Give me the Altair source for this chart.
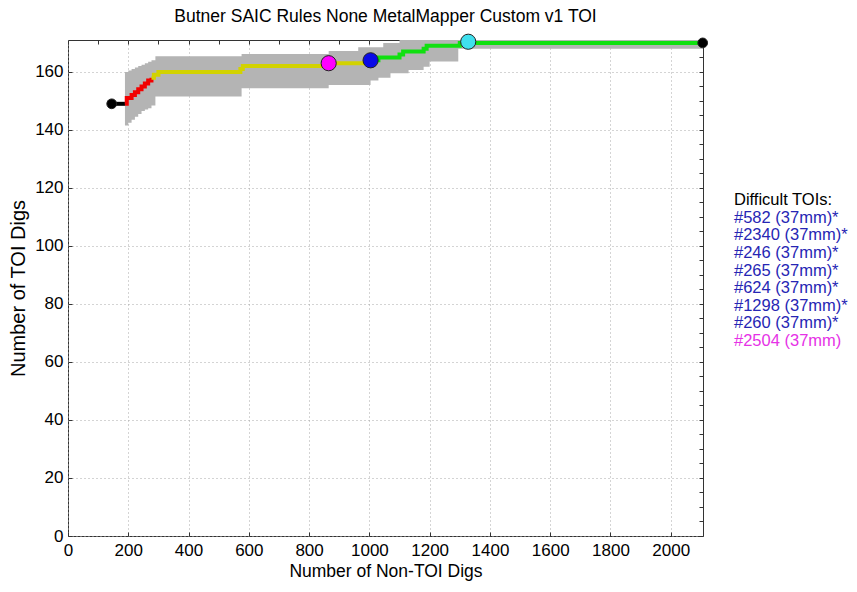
import altair as alt
import pandas as pd

# ---------------- data ----------------
start_x = [145, 189]
start_y = [149, 149]

red_x = [189, 195, 211, 222, 233, 244, 255, 266, 277]
red_y = [149, 151, 152, 153, 154, 155, 156, 157, 158]

yellow_x = [277, 285, 300, 565, 572, 580, 865, 1004]
yellow_y = [158, 159, 160, 160, 161, 162, 163, 163]

green_x = [1004, 1030, 1100, 1112, 1180, 1190, 1300, 1328, 2106]
green_y = [164, 165, 166, 167, 168, 169, 170, 170, 170]

band_x = [189, 200, 211, 222, 233, 244, 255, 266, 277, 290, 576, 865, 963, 1004,
          1030, 1046, 1070, 1100, 1130, 1180, 1200, 1295, 2106]
band_lo = [141.5, 142.5, 143.5, 144.5, 145.5, 146.5, 147, 147.5, 148.4, 151.5, 154.4,
           155.5, 155.5, 157, 158, 158, 159.5, 159.5, 160.7, 161.8, 163.6, 168, 168]
band_hi = [160, 160.5, 161, 161.5, 162, 162.5, 163, 163.5, 164, 165.4, 166.2, 167.2,
           168.5, 168.5, 168.5, 170, 170, 171, 171, 171, 171, 171, 171]

marker_names = ["start", "magenta", "blue", "cyan", "end"]
marker_x = [145, 865, 1004, 1328, 2106]
marker_y = [149, 163, 164, 170.4, 170]

legend_lines = ["Difficult TOIs:", "#582 (37mm)*", "#2340 (37mm)*", "#246 (37mm)*",
                "#265 (37mm)*", "#624 (37mm)*", "#1298 (37mm)*", "#260 (37mm)*",
                "#2504 (37mm)"]
legend_kind = ["head"] + ["found"] * 7 + ["missed"]

title = "Butner SAIC Rules None MetalMapper Custom v1 TOI"
x_ticks = list(range(0, 2101, 100))
y_ticks = list(range(0, 171, 5))

# ---------------- styles ----------------
FONT = "Liberation Sans, Arial, sans-serif"
X_DOMAIN = [0, 2107]
Y_DOMAIN = [0, 171]
seg_colors = {"start": "#000000", "red": "#f20000", "yellow": "#d2d200", "green": "#10e010"}
mk_colors = {"start": "#000000", "magenta": "#ff00ff", "blue": "#0a0ae6",
             "cyan": "#40e0ee", "end": "#000000"}
mk_sizes = {"start": 95, "magenta": 230, "blue": 230, "cyan": 230, "end": 95}
txt_colors = {"head": "#000000", "found": "#2626b4", "missed": "#e632e6"}

band_df = pd.DataFrame({"x": band_x, "lo": band_lo, "hi": band_hi})

rows = []
for name, xs, ys in [("start", start_x, start_y), ("red", red_x, red_y),
                     ("yellow", yellow_x, yellow_y), ("green", green_x, green_y)]:
    for i, (a, b) in enumerate(zip(xs, ys)):
        rows.append({"seg": name, "x": a, "y": b, "o": i, "col": seg_colors[name]})
line_df = pd.DataFrame(rows)

mk_df = pd.DataFrame({"name": marker_names, "x": marker_x, "y": marker_y})
mk_df["col"] = mk_df["name"].map(mk_colors)
mk_df["size"] = mk_df["name"].map(mk_sizes)

txt_df = pd.DataFrame({"t": legend_lines, "row": list(range(len(legend_lines))),
                       "kind": legend_kind})
txt_df["col"] = txt_df["kind"].map(txt_colors)

title_df = pd.DataFrame({"t": [title]})

xscale = alt.Scale(domain=X_DOMAIN, nice=False, zero=False)
yscale = alt.Scale(domain=Y_DOMAIN, nice=False, zero=False)

major_x = "datum.value % 200 == 0"
major_y = "datum.value % 20 == 0"

x_axis = alt.Axis(values=x_ticks, format="d",
                  labelExpr=f"{major_x} ? datum.label : ''",
                  title="Number of Non-TOI Digs", grid=True, gridDash=[1, 3],
                  gridColor="#a8a8a8",
                  gridOpacity={"condition": {"test": major_x, "value": 1}, "value": 0},
                  domain=False, offset=-4, tickSize=4, tickColor="#333333",
                  labelPadding=6, labelFontSize=17, labelFont=FONT, labelColor="black",
                  titleFont=FONT, titleFontSize=17.5, titleFontWeight="normal",
                  titleColor="black", titlePadding=4, labelFlush=False, labelOverlap=False)
y_axis = alt.Axis(values=y_ticks, format="d",
                  labelExpr=f"{major_y} ? datum.label : ''",
                  title="Number of TOI Digs", grid=True, gridDash=[1, 3],
                  gridColor="#a8a8a8",
                  gridOpacity={"condition": {"test": major_y, "value": 1}, "value": 0},
                  domain=False, offset=-4, tickSize=4, tickColor="#333333",
                  labelPadding=5, labelFontSize=17, labelFont=FONT, labelColor="black",
                  titleFont=FONT, titleFontSize=20, titleFontWeight="normal",
                  titleColor="black", titlePadding=6, labelFlush=False, labelOverlap=False)

band = alt.Chart(band_df).mark_area(color="#b4b4b4", interpolate="step-after").encode(
    x=alt.X("x:Q", scale=xscale, axis=x_axis),
    y=alt.Y("lo:Q", scale=yscale, axis=y_axis),
    y2="hi:Q",
)

lines = alt.Chart(line_df).mark_line(strokeWidth=4, interpolate="step-after").encode(
    x="x:Q", y="y:Q", color=alt.Color("col:N", scale=None), detail="seg:N", order="o:Q"
)

markers = alt.Chart(mk_df).mark_point(filled=True, opacity=1, stroke="#222222",
                                      strokeWidth=1, shape="circle").encode(
    x="x:Q", y="y:Q", color=alt.Color("col:N", scale=None),
    size=alt.Size("size:Q", scale=None)
)

mirror = alt.Chart(mk_df).mark_point(opacity=0).encode(
    x=alt.X("x:Q", scale=xscale,
            axis=alt.Axis(orient="top", values=x_ticks, labels=False, title=None,
                          grid=False, domain=False, offset=-4, tickSize=4,
                          tickColor="#333333")),
    y=alt.Y("y:Q", scale=yscale,
            axis=alt.Axis(orient="right", values=y_ticks, labels=False, title=None,
                          grid=False, domain=False, offset=-4, tickSize=4,
                          tickColor="#333333")),
)

plot = alt.layer(band, lines, markers)
framed = alt.layer(plot, mirror).resolve_axis(x="independent", y="independent")

legend = alt.Chart(txt_df).mark_text(align="left", baseline="middle", font=FONT,
                                     fontSize=16.5).encode(
    x=alt.value(666),
    y=alt.Y("row:Q", scale=alt.Scale(domain=[0, 8], range=[160, 301]), axis=None),
    text="t:N",
    color=alt.Color("col:N", scale=None),
)

title_text = alt.Chart(title_df).mark_text(align="center", baseline="middle", font=FONT,
                                           fontSize=17.5, color="black").encode(
    x=alt.value(317.5), y=alt.value(-23), text="t:N"
)

chart = alt.layer(framed, legend, title_text).resolve_scale(y="independent").properties(
    width=635, height=496,
    autosize=alt.AutoSizeParams(type="none"),
    padding={"left": 60, "top": 32, "right": 146, "bottom": 48},
    background="white",
).configure_view(stroke="#333333", strokeWidth=1)

chart.save("out.html", embed_options={"renderer": "svg", "actions": False})
